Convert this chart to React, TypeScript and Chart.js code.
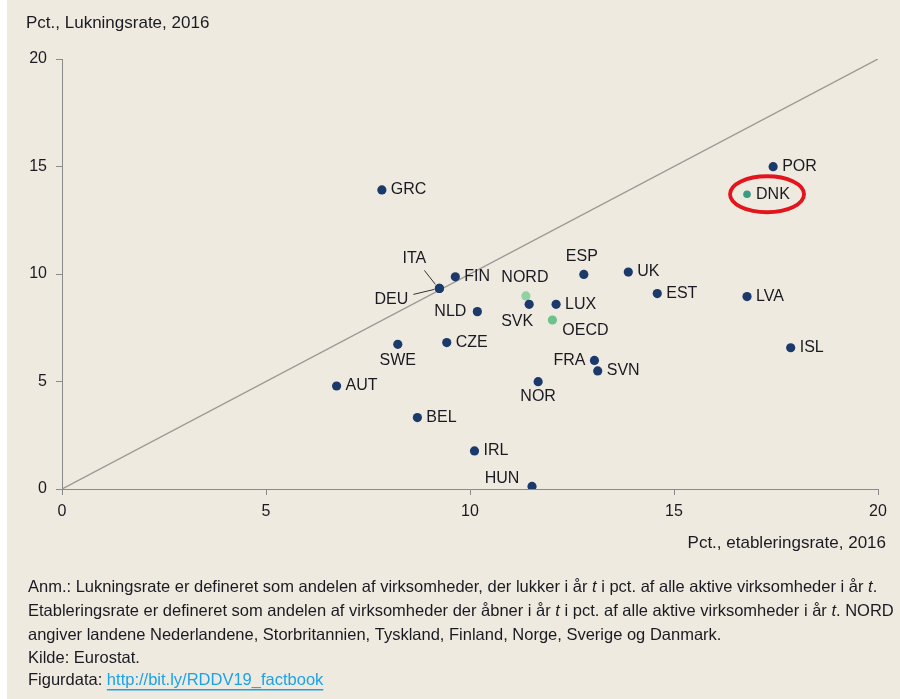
import React, { useEffect, useRef } from "react";
import { Chart, registerables } from "chart.js";

Chart.register(...registerables);

const countries = ["GRC", "ITA", "DEU", "FIN", "NORD", "SVK", "LUX", "OECD", "ESP", "UK", "NLD", "CZE", "SWE", "AUT", "BEL", "IRL", "HUN", "NOR", "FRA", "SVN", "EST", "LVA", "ISL", "POR", "DNK"];
const etableringsrate = [7.84, 9.25, 9.25, 9.64, 11.37, 11.45, 12.11, 12.02, 12.79, 13.88, 10.18, 9.43, 8.23, 6.73, 8.71, 10.11, 11.52, 11.67, 13.05, 13.13, 14.59, 16.79, 17.86, 17.43, 16.79];
const lukningsrate = [13.91, 9.33, 9.33, 9.87, 8.98, 8.59, 8.59, 7.86, 9.98, 10.09, 8.25, 6.81, 6.73, 4.79, 3.32, 1.77, 0.12, 4.99, 5.98, 5.49, 9.09, 8.95, 6.57, 14.99, 13.71];
const xTicks = [0, 5, 10, 15, 20];
const yTicks = [0, 5, 10, 15, 20];

const yTitle = "Pct., Lukningsrate, 2016";
const xTitle = "Pct., etableringsrate, 2016";
const noteLines = [
  "Anm.: Lukningsrate er defineret som andelen af virksomheder, der lukker i år t i pct. af alle aktive virksomheder i år t.",
  "Etableringsrate er defineret som andelen af virksomheder der åbner i år t i pct. af alle aktive virksomheder i år t. NORD",
  "angiver landene Nederlandene, Storbritannien, Tyskland, Finland, Norge, Sverige og Danmark.",
  "Kilde: Eurostat.",
];
const figLabel = "Figurdata: ";
const figLink = "http://bit.ly/RDDV19_factbook";

const NAVY = "#1b3a6b";
const pointColor = (c: string) =>
  c === "NORD" ? "#8fd3a2" : c === "OECD" ? "#6cc28b" : c === "DNK" ? "#3a9a84" : NAVY;
const pointRadius = (c: string) => (c === "DNK" ? 3.8 : 4.6);

// label placement: [dx, dy, align]
const placement: Record<string, [number, number, CanvasTextAlign]> = {
  ITA: [-25, -30, "center"],
  DEU: [-48, 11, "center"],
  NORD: [-1, -18, "center"],
  SVK: [-12, 17, "center"],
  OECD: [33, 11, "center"],
  ESP: [-2, -18, "center"],
  NLD: [-11, 0, "right"],
  SWE: [0, 16, "center"],
  HUN: [-30, -8, "center"],
  NOR: [0, 15, "center"],
  FRA: [-9, 0, "right"],
};

const FAMILY = "'Liberation Sans', Arial, sans-serif";
const FONT = "16px " + FAMILY;
const FONT_TITLE = "17px " + FAMILY;
const FONT_NOTE = "16.5px " + FAMILY;
const TEXT = "#1a1a22";
const BG = "#efeae0";

const overlay = {
  id: "overlay",
  beforeDraw(chart: any) {
    const ctx = chart.ctx;
    ctx.save();
    ctx.fillStyle = "#ffffff";
    ctx.fillRect(0, 0, chart.width, chart.height);
    ctx.fillStyle = BG;
    ctx.fillRect(7, 0, chart.width - 7, chart.height);
    ctx.restore();
  },
  afterDraw(chart: any) {
    const ctx = chart.ctx;
    const meta = chart.getDatasetMeta(0);
    ctx.save();
    ctx.font = FONT;
    ctx.fillStyle = TEXT;
    ctx.textBaseline = "middle";
    countries.forEach((c, i) => {
      const el = meta.data[i];
      if (!el) return;
      const p = placement[c] || [9, 0, "left"];
      ctx.textAlign = p[2];
      ctx.fillText(c, el.x + p[0], el.y + p[1]);
      if (c === "ITA") {
        ctx.strokeStyle = "#333";
        ctx.lineWidth = 1;
        ctx.beginPath();
        ctx.moveTo(el.x - 15, el.y - 18);
        ctx.lineTo(el.x - 4, el.y - 4);
        ctx.stroke();
      }
      if (c === "DEU") {
        ctx.strokeStyle = "#333";
        ctx.lineWidth = 1;
        ctx.beginPath();
        ctx.moveTo(el.x - 26, el.y + 6);
        ctx.lineTo(el.x - 5, el.y + 1);
        ctx.stroke();
      }
      if (c === "DNK") {
        ctx.strokeStyle = "#e3141c";
        ctx.lineWidth = 3.8;
        ctx.beginPath();
        ctx.ellipse(el.x + 20, el.y, 37, 18, 0, 0, Math.PI * 2);
        ctx.stroke();
      }
    });
    // titles
    ctx.font = FONT_TITLE;
    ctx.textAlign = "left";
    ctx.fillText(yTitle, 26, 23);
    ctx.textAlign = "right";
    ctx.fillText(xTitle, 886, 543);
    // notes
    ctx.textAlign = "left";
    const ys = [587, 611, 635, 658];
    noteLines.forEach((line, i) => {
      const parts = line.split(/(\bt\b)/);
      let x = 28;
      parts.forEach((part) => {
        ctx.font = part === "t" ? "italic " + FONT_NOTE : FONT_NOTE;
        ctx.fillText(part, x, ys[i]);
        x += ctx.measureText(part).width;
      });
    });
    ctx.font = FONT_NOTE;
    ctx.fillText(figLabel, 28, 680);
    const lx = 28 + ctx.measureText(figLabel).width;
    ctx.fillStyle = "#1aa3e8";
    ctx.fillText(figLink, lx, 680);
    const lw = ctx.measureText(figLink).width;
    ctx.fillRect(lx, 689, lw, 1.5);
    ctx.restore();
  },
};

export default function App() {
  const ref = useRef<HTMLCanvasElement>(null);
  useEffect(() => {
    document.body.style.margin = "0";
    const chart = new Chart(ref.current!, {
      type: "scatter",
      data: {
        datasets: [
          {
            label: "lande",
            data: countries.map((_, i) => ({ x: etableringsrate[i], y: lukningsrate[i] })),
            backgroundColor: countries.map(pointColor),
            borderWidth: 0,
            pointRadius: countries.map(pointRadius),
            order: 1,
          },
          {
            type: "line",
            label: "45°",
            data: [
              { x: xTicks[0], y: yTicks[0] },
              { x: xTicks[xTicks.length - 1], y: yTicks[yTicks.length - 1] },
            ],
            borderColor: "#9a9a96",
            borderWidth: 1.4,
            pointRadius: 0,
            order: 2,
          } as any,
        ],
      },
      options: {
        animation: false,
        responsive: false,
        layout: { padding: { left: 7, top: 59, right: 22, bottom: 180 } },
        plugins: { legend: { display: false }, tooltip: { enabled: false } },
        scales: {
          x: {
            type: "linear",
            min: 0,
            max: 20,
            afterFit: (s: any) => { s.height = 30; },
            afterBuildTicks: (s: any) => { s.ticks = xTicks.map((v) => ({ value: v })); },
            border: { display: true, color: "#8a8a8a", width: 1 },
            grid: { display: true, drawOnChartArea: false, drawTicks: true, tickLength: 6, color: "#8a8a8a" },
            ticks: { padding: 7, color: TEXT, font: { family: "'Liberation Sans', Arial", size: 16 } },
          },
          y: {
            type: "linear",
            min: 0,
            max: 20,
            afterFit: (s: any) => { s.width = 55; },
            afterBuildTicks: (s: any) => { s.ticks = yTicks.map((v) => ({ value: v })); },
            border: { display: true, color: "#8a8a8a", width: 1 },
            grid: { display: true, drawOnChartArea: false, drawTicks: true, tickLength: 6, color: "#8a8a8a" },
            ticks: { padding: 9, color: TEXT, font: { family: "'Liberation Sans', Arial", size: 16 } },
          },
        },
      },
      plugins: [overlay],
    });
    return () => chart.destroy();
  }, []);
  return <canvas ref={ref} width={900} height={699} style={{ display: "block" }} />;
}
